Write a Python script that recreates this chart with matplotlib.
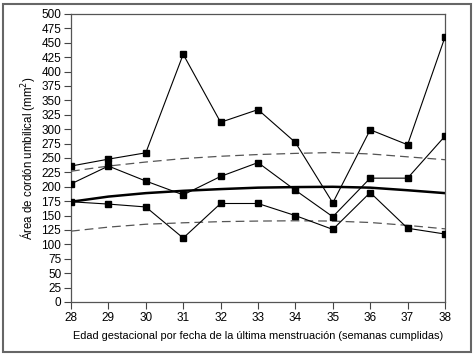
import matplotlib
matplotlib.use("Agg")
import matplotlib.pyplot as plt
from matplotlib.patches import Rectangle

plt.rcParams['font.family'] = ['Liberation Sans', 'DejaVu Sans']

weeks = [28, 29, 30, 31, 32, 33, 34, 35, 36, 37, 38]
upper = [236, 248, 259, 430, 312, 334, 277, 172, 299, 273, 460]
middle = [205, 236, 210, 186, 218, 242, 194, 148, 215, 215, 288]
lower = [174, 170, 165, 111, 171, 171, 150, 126, 190, 128, 118]
mean_curve = [174, 183, 189, 193, 196, 198.5, 199.5, 200, 198.5, 194, 189]
dash_upper = [227, 236, 243, 249, 253, 256, 258, 259.5, 257, 252, 247]
dash_lower = [123, 130, 135, 137.5, 139.5, 140.5, 141, 140.5, 138, 133, 127]

yticks = list(range(0, 501, 25))

fig = plt.figure(figsize=(4.74, 3.56), dpi=100)
ax = fig.add_axes([0.1498, 0.1517, 0.789, 0.809])

for s in (upper, middle, lower):
    ax.plot(weeks, s, color='black', lw=0.8, marker='s', ms=5, zorder=3)
ax.plot(weeks, mean_curve, color='black', lw=1.8, zorder=2)
for s in (dash_upper, dash_lower):
    ax.plot(weeks, s, color='#555555', lw=0.9, ls=(0, (7, 4)), zorder=1)

ax.set_xlim(28, 38)
ax.set_ylim(0, 500)
ax.set_xticks(weeks)
ax.set_yticks(yticks)
ax.tick_params(direction='out', length=5, width=0.8, color='#444444',
               labelsize=8.5, pad=2)
for sp in ax.spines.values():
    sp.set_color('#555555')
    sp.set_linewidth(0.9)

ax.set_xlabel('Edad gestacional por fecha de la última menstruación (semanas cumplidas)',
              fontsize=7.9, labelpad=5)
ax.set_ylabel('Área de cordón umbilical (mm$^2$)', fontsize=8.3, labelpad=3)

fig.patches.append(Rectangle((0.006, 0.012), 0.988, 0.978, transform=fig.transFigure,
                             fill=False, edgecolor='#666666', lw=1.5))

fig.savefig('out.png', dpi=100)
